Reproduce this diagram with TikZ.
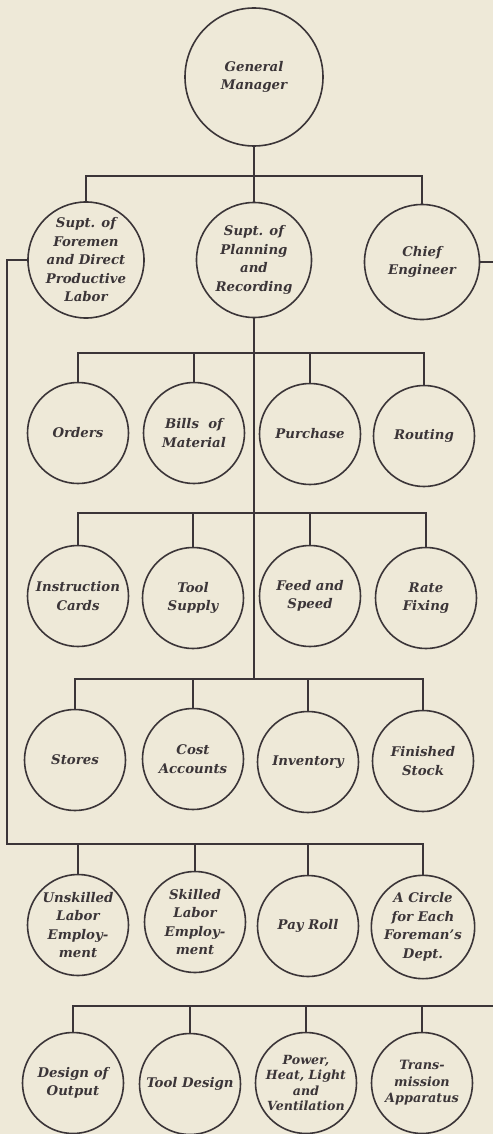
\documentclass[tikz,border=0pt]{standalone}
\usepackage{fontspec}
\setmainfont{DejaVu Serif}
\definecolor{paper}{HTML}{EEE9D8}
\definecolor{ink}{HTML}{3B3538}
\begin{document}
\begin{tikzpicture}[x=1pt,y=-1pt,
  box/.style={circle,draw=ink,line width=1.6pt,inner sep=0pt,align=center,text=ink,
    font=\fontsize{13.3}{18.5}\selectfont\bfseries\itshape},
  big/.style={box,minimum size=138pt},
  mid/.style={box,minimum size=115pt},
  sm/.style={box,minimum size=101pt},
  wire/.style={draw=ink,line width=1.6pt}]
\fill[paper] (0,0) rectangle (493,1134);
\useasboundingbox (0,0) rectangle (493,1134);
% nodes
\node[big] (gm) at (254,77) {General\\Manager};
\node[mid] (fo) at (86,260) {Supt. of\\Foremen\\and Direct\\Productive\\Labor};
\node[mid] (pl) at (254,260) {Supt. of\\Planning\\and\\Recording};
\node[mid] (ce) at (422,262) {Chief\\Engineer};
% row 2
\node[sm] (or) at (78,433) {Orders};
\node[sm] (bm) at (194,433) {Bills\ \ of\\Material};
\node[sm] (pu) at (310,434) {Purchase};
\node[sm] (ro) at (424,436) {Routing};
% row 3
\node[sm] (ic) at (78,596) {Instruction\\Cards};
\node[sm] (ts) at (193,598) {Tool\\Supply};
\node[sm] (fs) at (310,596) {Feed and\\Speed};
\node[sm] (rf) at (426,598) {Rate\\Fixing};
% row 4
\node[sm] (st) at (75,760) {Stores};
\node[sm] (ca) at (193,759) {Cost\\Accounts};
\node[sm] (in) at (308,762) {Inventory};
\node[sm] (fi) at (423,761) {Finished\\Stock};
% row 5
\node[sm] (un) at (78,925) {Unskilled\\Labor\\Employ-\\ment};
\node[sm] (sk) at (195,922) {Skilled\\Labor\\Employ-\\ment};
\node[sm] (pr) at (308,926) {Pay Roll};
\node[sm] (ac) at (423,927) {A Circle\\for Each\\Foreman's\\Dept.};
% row 6
\node[sm] (do) at (73,1083) {Design of\\Output};
\node[sm] (td) at (190,1084) {Tool Design};
\node[sm,font=\fontsize{12.6}{15.5}\selectfont\bfseries\itshape] (pw) at (306,1083) {Power,\\Heat, Light\\and\\Ventilation};
\node[sm,font=\fontsize{12.8}{16.5}\selectfont\bfseries\itshape] (tr) at (422,1083) {Trans-\\mission\\Apparatus};
% coordinates
\coordinate (b0) at (254,176);
\coordinate (lt) at (7,260);
\coordinate (lb) at (7,844);
\coordinate (re) at (493,262);
\coordinate (b1) at (254,353);
\coordinate (b2) at (254,513);
\coordinate (b3) at (254,679);
\coordinate (b5) at (493,1006);
% top
\draw[wire] (gm.south) -- (b0);
\draw[wire] (fo.north) |- (b0) -| (ce.north);
\draw[wire] (b0) -- (pl.north);
% planning trunk
\draw[wire] (pl.south) -- (b3);
\draw[wire] (or.north) |- (b1) -| (ro.north);
\draw[wire] (bm.north) -- (bm.north |- b1);
\draw[wire] (pu.north) -- (pu.north |- b1);
\draw[wire] (ic.north) |- (b2) -| (rf.north);
\draw[wire] (ts.north) -- (ts.north |- b2);
\draw[wire] (fs.north) -- (fs.north |- b2);
\draw[wire] (st.north) |- (b3) -| (fi.north);
\draw[wire] (ca.north) -- (ca.north |- b3);
\draw[wire] (in.north) -- (in.north |- b3);
% foremen line
\draw[wire] (fo.west) -- (lt) -- (lb) -| (ac.north);
\draw[wire] (un.north) -- (un.north |- lb);
\draw[wire] (sk.north) -- (sk.north |- lb);
\draw[wire] (pr.north) -- (pr.north |- lb);
% chief engineer line
\draw[wire] (ce.east) -- (re);
\draw[wire] (do.north) |- (b5);
\draw[wire] (td.north) -- (td.north |- b5);
\draw[wire] (pw.north) -- (pw.north |- b5);
\draw[wire] (tr.north) -- (tr.north |- b5);
\end{tikzpicture}
\end{document}
